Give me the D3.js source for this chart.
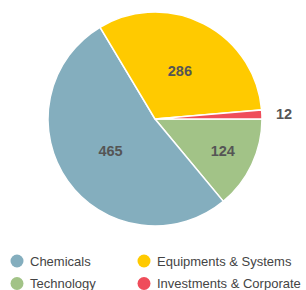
<!DOCTYPE html>
<html>
<head>
<meta charset="utf-8">
<script src="https://cdn.jsdelivr.net/npm/d3@7"></script>
<style>
  body { margin: 0; background: #fff; }
  svg { display: block; font-family: "Liberation Sans", Arial, sans-serif; }
</style>
</head>
<body>
<div id="chart"></div>
<script>
// legend order
var categories = ["Chemicals", "Equipments & Systems", "Technology", "Investments & Corporate"];
var values = [465, 286, 124, 12];
var colors = ["#84aebe", "#ffca00", "#a2c387", "#ef4d5a"];
// order the slices are drawn clockwise from 3 o'clock
var pieOrder = ["Technology", "Chemicals", "Equipments & Systems", "Investments & Corporate"];

var width = 306,
    height = 290,
    cx = 155,
    cy = 119,
    radius = 107;

var svg = d3.select("#chart")
    .append("svg")
    .attr("width", width)
    .attr("height", height);

var data = pieOrder.map(function(name) {
    var i = categories.indexOf(name);
    return { name: name, value: values[i], color: colors[i] };
});

var pie = d3.pie()
    .sort(null)
    .value(function(d) { return d.value; })
    .startAngle(Math.PI / 2)
    .endAngle(Math.PI / 2 + 2 * Math.PI);

var arcs = pie(data);

var arc = d3.arc().innerRadius(0).outerRadius(radius);

var g = svg.append("g")
    .attr("transform", "translate(" + cx + "," + cy + ")");

g.selectAll("path")
    .data(arcs).enter()
    .append("path")
    .attr("d", arc)
    .attr("fill", function(d) { return d.data.color; })
    .attr("stroke", "#fff")
    .attr("stroke-width", 1.5);

// labels: big slices inside, narrower ones further out, tiny ones outside
g.selectAll("text.val")
    .data(arcs).enter()
    .append("text")
    .attr("class", "val")
    .each(function(d) {
        var span = d.endAngle - d.startAngle;
        var mid = (d.startAngle + d.endAngle) / 2;
        var r, anchor = "middle";
        if (span < 0.3) { r = radius + 14; anchor = "start"; }
        else if (span < 1.2) r = radius * 0.7;
        else r = radius * 0.51;
        d3.select(this)
            .attr("x", Math.sin(mid) * r)
            .attr("y", -Math.cos(mid) * r)
            .attr("text-anchor", anchor);
    })
    .attr("dy", "0.35em")
    .attr("fill", "#555")
    .attr("font-size", 14.5)
    .attr("font-weight", "bold")
    .text(function(d) { return d.data.value; });

// legend
var legend = svg.append("g");
var item = legend.selectAll("g")
    .data(categories).enter()
    .append("g")
    .attr("transform", function(d, i) {
        return "translate(" + (17 + (i % 2) * 127) + "," + (261 + Math.floor(i / 2) * 22.5) + ")";
    });

item.append("circle")
    .attr("r", 6.5)
    .attr("fill", function(d, i) { return colors[i]; });

item.append("text")
    .attr("x", 13)
    .attr("dy", "0.35em")
    .attr("fill", "#444")
    .attr("font-size", 13)
    .text(function(d) { return d; });
</script>
</body>
</html>
